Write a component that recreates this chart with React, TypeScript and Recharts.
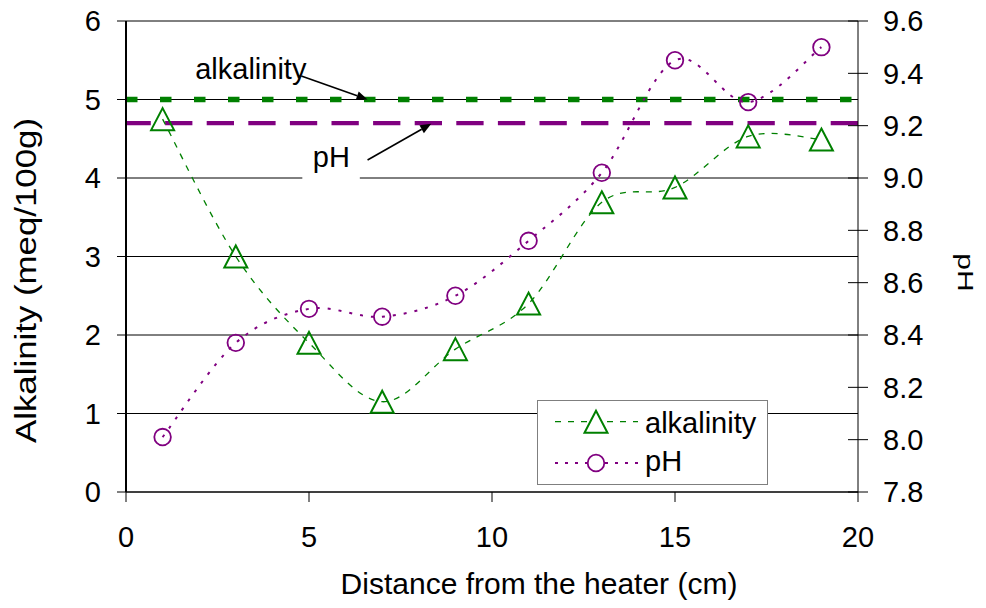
import React from 'react';
import {
  LineChart, Line, XAxis, YAxis, CartesianGrid, ReferenceLine, ReferenceDot, Legend,
} from 'recharts';

// ---------- data ----------
const distance = [1, 3, 5, 7, 9, 11, 13, 15, 17, 19];
const alkalinity = [4.75, 3.0, 1.9, 1.15, 1.82, 2.4, 3.69, 3.88, 4.53, 4.49];
const pH = [8.01, 8.37, 8.5, 8.47, 8.55, 8.76, 9.02, 9.45, 9.29, 9.5];

const xTicks = [0, 5, 10, 15, 20];
const alkTicks = [0, 1, 2, 3, 4, 5, 6];
const pHTicks = [7.8, 8.0, 8.2, 8.4, 8.6, 8.8, 9.0, 9.2, 9.4, 9.6];

const alkalinityLimit = 5;
const pHLimit = 9.21;

// annotation anchors (data coordinates: distance, alkalinity)
const alkLabelAt = { x: 3.41, y: 5.26 };
const pHLabelAt = { x: 5.61, y: 4.144 };
const alkArrow = [{ x: 4.79, y: 5.3 }, { x: 6.6, y: 5.0 }];
const pHArrow = [{ x: 6.6, y: 4.23 }, { x: 8.34, y: 4.69 }];

const data = distance.map((x, i) => ({ x, alkalinity: alkalinity[i], pH: pH[i] }));

const GREEN = '#008000';
const PURPLE = '#800080';
const FONT = '"Liberation Sans", Arial, sans-serif';

// Excel-like smoothing (Catmull-Rom via cubic Bezier)
function excelSmooth(context: any) {
  let pts: number[][] = [];
  return {
    areaStart() {},
    areaEnd() {},
    lineStart() { pts = []; },
    point(x: number, y: number) { pts.push([+x, +y]); },
    lineEnd() {
      const n = pts.length;
      if (!n) return;
      context.moveTo(pts[0][0], pts[0][1]);
      for (let i = 0; i < n - 1; i++) {
        const p0 = pts[i - 1] || pts[i];
        const p1 = pts[i];
        const p2 = pts[i + 1];
        const p3 = pts[i + 2] || p2;
        context.bezierCurveTo(
          p1[0] + (p2[0] - p0[0]) / 6, p1[1] + (p2[1] - p0[1]) / 6,
          p2[0] - (p3[0] - p1[0]) / 6, p2[1] - (p3[1] - p1[1]) / 6,
          p2[0], p2[1],
        );
      }
    },
  };
}

const TriangleDot = (props: any) => {
  const { cx, cy, index } = props;
  if (cx == null || cy == null) return <g key={`t-${index}`} />;
  return (
    <polygon
      key={`t-${index}`}
      points={`${cx},${cy - 11} ${cx + 11.5},${cy + 11} ${cx - 11.5},${cy + 11}`}
      fill="none"
      stroke={GREEN}
      strokeWidth={2}
    />
  );
};

const CircleDot = (props: any) => {
  const { cx, cy, index } = props;
  if (cx == null || cy == null) return <g key={`c-${index}`} />;
  return <circle key={`c-${index}`} cx={cx} cy={cy} r={8.3} fill="none" stroke={PURPLE} strokeWidth={1.8} />;
};

const RightTick = (props: any) => {
  const { x, y, payload } = props;
  const axisX = x - 10 - 15;
  return (
    <g>
      <line x1={axisX - 10} x2={axisX} y1={y} y2={y} stroke="#000" strokeWidth={1} />
      <text x={x} y={y} dy="0.355em" textAnchor="start" fill="#000" fontSize={29} fontFamily={FONT}>
        {Number(payload.value).toFixed(1)}
      </text>
    </g>
  );
};

const LeftTitle = (props: any) => {
  const vb = props.viewBox || { x: 0, y: 21, width: 126, height: 471 };
  const cx = vb.x + 35.5;
  const cy = vb.y + vb.height / 2 + 24;
  return (
    <text x={cx} y={cy} transform={`rotate(-90 ${cx} ${cy})`} textAnchor="middle" fill="#000"
      fontSize={30} fontFamily={FONT} textLength={325} lengthAdjust="spacingAndGlyphs">
      Alkalinity (meq/100g)
    </text>
  );
};

const RightTitle = (props: any) => {
  const vb = props.viewBox || { x: 858, y: 21, width: 128, height: 471 };
  const cx = vb.x + 99.5;
  const cy = vb.y + vb.height / 2 + 16;
  return (
    <text x={0} y={0} transform={`translate(${cx} ${cy}) rotate(90) scale(1 0.72)`} textAnchor="middle" fill="#000"
      fontSize={30} fontFamily={FONT}>
      pH
    </text>
  );
};

const XTitle = (props: any) => {
  const vb = props.viewBox || { x: 126, y: 492, width: 732, height: 116 };
  const cx = vb.x + vb.width / 2 + 47;
  const cy = vb.y + 102;
  return (
    <text x={cx} y={cy} textAnchor="middle" fill="#000" fontSize={30} fontFamily={FONT}>
      Distance from the heater (cm)
    </text>
  );
};

const Arrow = (props: any) => {
  const { x1, y1, x2, y2 } = props;
  const ang = Math.atan2(y2 - y1, x2 - x1);
  const L = 11;
  const W = 4.5;
  const bx = x2 - L * Math.cos(ang);
  const by = y2 - L * Math.sin(ang);
  const px = -Math.sin(ang) * W;
  const py = Math.cos(ang) * W;
  return (
    <g>
      <line x1={x1} y1={y1} x2={bx} y2={by} stroke="#000" strokeWidth={1.6} />
      <polygon points={`${x2},${y2} ${bx + px},${by + py} ${bx - px},${by - py}`} fill="#000" />
    </g>
  );
};

const AlkLabel = (props: any) => {
  const { cx, cy } = props;
  return (
    <text x={cx} y={cy} textAnchor="middle" fill="#000" fontSize={29} fontFamily={FONT}>alkalinity</text>
  );
};

const PHLabel = (props: any) => {
  const { cx, cy } = props;
  return (
    <g>
      <rect x={cx - 29} y={cy - 24} width={57.5} height={42} fill="#fff" />
      <text x={cx} y={cy} textAnchor="middle" fill="#000" fontSize={29} fontFamily={FONT}>pH</text>
    </g>
  );
};

const LegendBox = () => (
  <svg width={231} height={85} style={{ display: 'block', overflow: 'visible' }}>
    <rect x={0.5} y={0.5} width={230} height={84} fill="#fff" stroke="#7f7f7f" strokeWidth={1} />
    <line x1={18} x2={101} y1={21.7} y2={21.7} stroke={GREEN} strokeWidth={1.3} strokeDasharray="6 7" />
    <polygon points={`59,10.7 70.5,32.7 47.5,32.7`} fill="#fff" stroke={GREEN} strokeWidth={2} />
    <text x={108} y={32.6} fill="#000" fontSize={29} fontFamily={FONT}>alkalinity</text>
    <line x1={18} x2={101} y1={63} y2={63} stroke={PURPLE} strokeWidth={2} strokeDasharray="3 7" />
    <circle cx={59} cy={63} r={8.3} fill="#fff" stroke={PURPLE} strokeWidth={1.8} />
    <text x={108} y={71} fill="#000" fontSize={29} fontFamily={FONT}>pH</text>
  </svg>
);

export default function App() {
  return (
    <div style={{ position: 'absolute', left: 0, top: 0, background: '#fff' }}>
      <LineChart width={986} height={608} data={data} margin={{ top: 21, right: 0, bottom: 0, left: 0 }}>
        <CartesianGrid yAxisId="left" horizontal vertical={false} stroke="#000" strokeWidth={1} />
        <XAxis
          type="number"
          dataKey="x"
          domain={[0, 20]}
          ticks={xTicks}
          height={116}
          tickSize={10}
          tickMargin={24}
          axisLine={{ stroke: '#000', strokeWidth: 1 }}
          tickLine={{ stroke: '#000' }}
          tick={{ fill: '#000', fontSize: 29, fontFamily: FONT }}
          label={<XTitle />}
        />
        <YAxis
          yAxisId="left"
          orientation="left"
          domain={[0, 6]}
          ticks={alkTicks}
          width={126}
          tickSize={9}
          tickMargin={16}
          axisLine={{ stroke: '#000', strokeWidth: 2 }}
          tickLine={{ stroke: '#000' }}
          tick={{ fill: '#000', fontSize: 29, fontFamily: FONT }}
          label={<LeftTitle />}
        />
        <YAxis
          yAxisId="right"
          orientation="right"
          domain={[7.8, 9.6]}
          ticks={pHTicks}
          width={128}
          tickSize={10}
          tickMargin={15}
          axisLine={{ stroke: '#000', strokeWidth: 1 }}
          tickLine={{ stroke: '#000' }}
          tick={<RightTick />}
          label={<RightTitle />}
        />
        <ReferenceLine yAxisId="right" y={pHLimit} stroke={PURPLE} strokeWidth={4.3} strokeDasharray="27.3 14.3" />
        <ReferenceLine yAxisId="left" y={alkalinityLimit} stroke={GREEN} strokeWidth={5.6} strokeDasharray="11.5 22.5" />
        <Line
          yAxisId="left"
          dataKey="alkalinity"
          type={excelSmooth as any}
          stroke={GREEN}
          strokeWidth={1.3}
          strokeDasharray="6 7"
          dot={TriangleDot}
          activeDot={false}
          isAnimationActive={false}
        />
        <Line
          yAxisId="right"
          dataKey="pH"
          type={excelSmooth as any}
          stroke={PURPLE}
          strokeWidth={2}
          strokeDasharray="3 8"
          dot={CircleDot}
          activeDot={false}
          isAnimationActive={false}
        />
        <ReferenceDot yAxisId="left" x={pHLabelAt.x} y={pHLabelAt.y} shape={PHLabel} />
        <ReferenceDot yAxisId="left" x={alkLabelAt.x} y={alkLabelAt.y} shape={AlkLabel} />
        <ReferenceLine yAxisId="left" segment={alkArrow} shape={Arrow} />
        <ReferenceLine yAxisId="left" segment={pHArrow} shape={Arrow} />
        <Legend
          layout="vertical"
          align="center"
          verticalAlign="middle"
          content={<LegendBox />}
          wrapperStyle={{ left: 537, top: 400, width: 231, height: 85 }}
        />
      </LineChart>
    </div>
  );
}
